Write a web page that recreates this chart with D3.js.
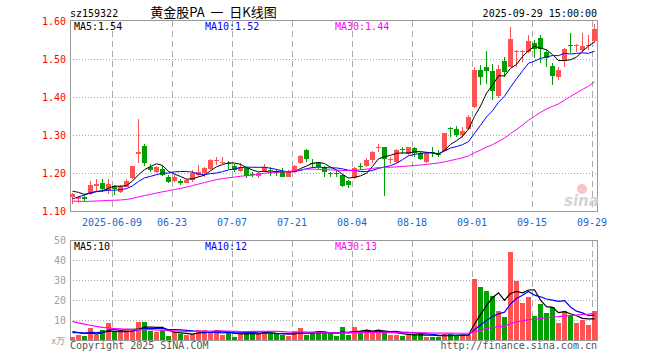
<!DOCTYPE html>
<html><head><meta charset="utf-8">
<script src="https://cdn.jsdelivr.net/npm/d3@7/dist/d3.min.js"></script>
<style>body{margin:0;background:#fff}svg{display:block}</style>
</head><body>
<svg id="chart" width="660" height="360"></svg>
<script>
// ---------- data ----------
const dates = [
"2025-05-28","2025-05-29","2025-05-30",
"2025-06-03","2025-06-04","2025-06-05","2025-06-06","2025-06-09","2025-06-10","2025-06-11","2025-06-12","2025-06-13",
"2025-06-16","2025-06-17","2025-06-18","2025-06-19","2025-06-20","2025-06-23","2025-06-24","2025-06-25","2025-06-26","2025-06-27","2025-06-30",
"2025-07-01","2025-07-02","2025-07-03","2025-07-04","2025-07-07","2025-07-08","2025-07-09","2025-07-10","2025-07-11",
"2025-07-14","2025-07-15","2025-07-16","2025-07-17","2025-07-18","2025-07-21","2025-07-22","2025-07-23","2025-07-24","2025-07-25",
"2025-07-28","2025-07-29","2025-07-30","2025-07-31",
"2025-08-01","2025-08-04","2025-08-05","2025-08-06","2025-08-07","2025-08-08","2025-08-11","2025-08-12","2025-08-13","2025-08-14","2025-08-15",
"2025-08-18","2025-08-19","2025-08-20","2025-08-21","2025-08-22","2025-08-25","2025-08-26","2025-08-27","2025-08-28","2025-08-29",
"2025-09-01","2025-09-02","2025-09-03","2025-09-04","2025-09-05","2025-09-08","2025-09-09","2025-09-10","2025-09-11","2025-09-12",
"2025-09-15","2025-09-16","2025-09-17","2025-09-18","2025-09-19","2025-09-22","2025-09-23","2025-09-24","2025-09-25","2025-09-26","2025-09-29"
];
const opens = [
1.137,1.132,1.138,1.145,1.166,1.173,1.154,1.166,1.151,1.164,
1.186,1.251,1.271,1.216,1.203,1.211,1.189,1.180,1.178,1.174,
1.182,1.195,1.199,1.210,1.232,1.229,1.226,1.218,1.206,1.213,
1.197,1.191,1.205,1.207,1.203,1.203,1.190,1.203,1.226,1.261,
1.227,1.226,1.215,1.200,1.200,1.195,1.179,1.186,1.218,1.218,
1.234,1.267,1.268,1.234,1.229,1.262,1.249,1.266,1.253,1.230,
1.254,1.251,1.259,1.318,1.315,1.299,1.317,1.373,1.471,1.478,
1.468,1.403,1.496,1.480,1.518,1.520,1.518,1.543,1.555,1.519,
1.482,1.452,1.495,1.537,1.536,1.524,1.536,1.548];
const highs = [
1.147,1.139,1.146,1.179,1.184,1.183,1.184,1.168,1.168,1.184,
1.219,1.342,1.276,1.225,1.219,1.218,1.195,1.195,1.183,1.184,
1.208,1.221,1.217,1.236,1.243,1.241,1.232,1.224,1.227,1.215,
1.203,1.203,1.224,1.215,1.211,1.212,1.207,1.221,1.247,1.262,
1.236,1.230,1.219,1.203,1.208,1.197,1.182,1.215,1.226,1.239,
1.259,1.276,1.269,1.242,1.262,1.269,1.269,1.269,1.256,1.256,
1.268,1.261,1.306,1.322,1.324,1.320,1.353,1.480,1.484,1.521,
1.487,1.484,1.506,1.585,1.524,1.525,1.563,1.550,1.563,1.525,
1.489,1.480,1.528,1.568,1.540,1.568,1.563,1.592];
const lows = [
1.118,1.121,1.126,1.142,1.153,1.149,1.145,1.142,1.147,1.162,
1.184,1.226,1.218,1.203,1.201,1.192,1.173,1.177,1.168,1.173,
1.177,1.189,1.189,1.208,1.221,1.224,1.211,1.203,1.203,1.187,
1.189,1.187,1.203,1.192,1.192,1.189,1.189,1.201,1.224,1.230,
1.212,1.211,1.190,1.189,1.190,1.162,1.160,1.183,1.209,1.215,
1.226,1.256,1.140,1.224,1.226,1.250,1.247,1.243,1.234,1.226,
1.243,1.242,1.257,1.294,1.294,1.291,1.313,1.370,1.432,1.433,
1.392,1.397,1.453,1.478,1.480,1.493,1.515,1.502,1.489,1.480,
1.432,1.445,1.480,1.515,1.518,1.519,1.524,1.541];
const closes = [
1.145,1.137,1.132,1.168,1.172,1.157,1.172,1.159,1.166,1.180,
1.218,1.254,1.226,1.207,1.217,1.195,1.177,1.190,1.175,1.182,
1.199,1.203,1.212,1.234,1.233,1.230,1.225,1.209,1.217,1.192,
1.196,1.201,1.217,1.205,1.202,1.190,1.203,1.218,1.245,1.236,
1.226,1.215,1.202,1.199,1.199,1.166,1.168,1.212,1.217,1.234,
1.256,1.268,1.238,1.236,1.261,1.261,1.268,1.253,1.238,1.252,
1.253,1.250,1.305,1.317,1.299,1.311,1.347,1.471,1.452,1.469,
1.416,1.473,1.466,1.553,1.520,1.521,1.548,1.526,1.526,1.503,
1.455,1.470,1.526,1.536,1.537,1.534,1.537,1.580];
// volume, unit: 万
const volumes = [
1.7,2.5,2,6.2,2.5,5,8.5,4,4,5,
5,9,9,4.5,4,5,2,4,3,2.5,
3,5,5,4,5,2.5,3.7,1.5,3.3,4.5,
3,3,4.5,3,3,2.5,2,4.5,6,2.5,
3.7,4.5,3.5,3.3,2,6.5,2.5,6.5,4.5,4.5,
4.5,4.5,4.5,2.5,2.5,2,2.5,3,3,1.7,
1.7,1.7,3,3,2,2.3,2.3,30.5,26.5,24.5,
22,14.5,11.5,44,29.5,18.5,21.5,12,18,13.5,
16.5,8.5,14.5,12.5,8.5,10,7.5,14.5];
// sessions before the visible window (estimated from where the MA lines start)
const priorCloses = [1.150,1.148,1.152,1.145,1.140,1.146,1.150,1.142,1.138,1.139,
1.130,1.122,1.115,1.108,1.100,1.095,1.090,1.088,1.080,1.082,
1.083,1.086,1.112,1.130,1.149,1.152,1.158,1.150,1.155];
const priorVolumes = [24,22,22,20,20,18,12,10,10,9,9,8,8,8,8,8,7,7,6,6,
3,4,3,3,3,5,4,5,5.3];
const priceTicks = [1.10,1.20,1.30,1.40,1.50,1.60];
const volumeTicks = [10,20,30,40,50];
const dateTickDates = ["2025-06-09","2025-06-23","2025-07-07","2025-07-21","2025-08-04","2025-08-18","2025-09-01","2025-09-15","2025-09-29"];
const dateTickLabels = ["2025-06-09","06-23","07-07","07-21","08-04","08-18","09-01","09-15","09-29"];
const maPeriods = [5,10,30];

// ---------- drawing ----------
const svg = d3.select("#chart");
const RED = "#ff5353", GREEN = "#00a000", GRID = "#aaaaaa", FRAME = "#999999";
const MA_COLORS = ["#000000","#0000ff","#ff00ff"];
const MONO = "'DejaVu Sans Mono', monospace";
const L = 70, R = 597;

const x = d3.scaleBand().domain(dates).range([70, 598]);
const bw = x.bandwidth() - 1;
const y = d3.scaleLinear().domain([1.10, 1.60]).range([211, 21]);
const yv = d3.scaleLinear().domain([0, 50]).range([340, 240]);

function movingAvg(prior, vals, n) {
  const all = prior.concat(vals), off = prior.length;
  return vals.map((_, i) => d3.mean(all.slice(off + i - n + 1, off + i + 1)));
}
const priceMA = maPeriods.map(n => movingAvg(priorCloses, closes, n));
const volMA = maPeriods.map(n => movingAvg(priorVolumes, volumes, n));

function txt(xp, yp, s, fill, size, anchor, family) {
  return svg.append("text").attr("x", xp).attr("y", yp).text(s)
    .attr("fill", fill).attr("font-size", size).attr("text-anchor", anchor || "start")
    .attr("font-family", family || MONO);
}

// header
txt(70, 16.5, "sz159322", "#000", 10);
txt(213.5, 16.5, "黄金股PA\u00a0\u00a0一\u00a0\u00a0日K线图", "#000", 13, "middle", "'Noto Sans CJK SC', sans-serif");
txt(597, 16.5, "2025-09-29 15:00:00", "#000", 10, "end");

const grid = svg.append("g").attr("shape-rendering", "crispEdges");
// horizontal dotted grid
priceTicks.filter(t => t > 1.10 && t < 1.60).forEach(t => {
  grid.append("line").attr("x1", L).attr("x2", R).attr("y1", Math.round(y(t)) + 0.5).attr("y2", Math.round(y(t)) + 0.5)
    .attr("stroke", GRID).attr("stroke-dasharray", "1,2");
});
volumeTicks.filter(t => t < 50).forEach(t => {
  grid.append("line").attr("x1", L).attr("x2", R).attr("y1", yv(t) + 0.5).attr("y2", yv(t) + 0.5)
    .attr("stroke", GRID).attr("stroke-dasharray", "1,2");
});
// vertical dashed grid + date labels
dateTickDates.forEach((d, k) => {
  const gx = x(d) + 0.5;
  grid.append("line").attr("x1", gx).attr("x2", gx).attr("y1", 21).attr("y2", 211)
    .attr("stroke", GRID).attr("stroke-dasharray", "6,4");
  grid.append("line").attr("x1", gx).attr("x2", gx).attr("y1", 241).attr("y2", 340)
    .attr("stroke", GRID).attr("stroke-dasharray", "6,4");
  txt(x(d), 226, dateTickLabels[k], "#1f66cc", 10, "middle");
});
// frames
grid.append("rect").attr("x", 70.5).attr("y", 20.5).attr("width", 527).attr("height", 191)
  .attr("fill", "none").attr("stroke", FRAME);
grid.append("rect").attr("x", 70.5).attr("y", 240.5).attr("width", 527).attr("height", 100)
  .attr("fill", "none").attr("stroke", FRAME);

// axis labels
priceTicks.forEach(t => txt(66, y(t) + 4, t.toFixed(2), "#ff0000", 10, "end"));
volumeTicks.forEach(t => txt(66, yv(t) + 4, String(t), "#a0a0a0", 10, "end"));
txt(65, 344, "x万", "#a0a0a0", 9, "end", "'Noto Sans CJK SC', sans-serif");

// sina watermark
svg.append("circle").attr("cx", 582).attr("cy", 189).attr("r", 5).attr("fill", "#f6c4c4");
svg.append("text").attr("x", 564).attr("y", 206).text("sina").attr("font-size", 15)
  .attr("font-style", "italic").attr("font-weight", "bold").attr("fill", "#d4d4d4")
  .attr("font-family", "'DejaVu Sans', sans-serif");

// candles
const cg = svg.append("g").attr("shape-rendering", "crispEdges");
dates.forEach((d, i) => {
  const col = closes[i] >= opens[i] ? RED : GREEN;
  const x0 = x(d);
  cg.append("rect").attr("x", x0 + 2).attr("width", 1)
    .attr("y", y(highs[i])).attr("height", Math.max(1, y(lows[i]) - y(highs[i]))).attr("fill", col);
  const top = y(Math.max(opens[i], closes[i])), bot = y(Math.min(opens[i], closes[i]));
  cg.append("rect").attr("x", x0).attr("width", bw)
    .attr("y", top).attr("height", Math.max(1, bot - top)).attr("fill", col);
  // volume bar
  cg.append("rect").attr("x", x0).attr("width", bw)
    .attr("y", yv(volumes[i])).attr("height", 340 - yv(volumes[i])).attr("fill", col);
});

// moving average lines
const cx = i => x(dates[i]) + 2.5;
priceMA.forEach((arr, k) => {
  svg.append("path").attr("d", d3.line().x((v, i) => cx(i)).y(v => y(v))(arr))
    .attr("fill", "none").attr("stroke", MA_COLORS[k]).attr("stroke-width", 1);
});
volMA.forEach((arr, k) => {
  svg.append("path").attr("d", d3.line().x((v, i) => cx(i)).y(v => yv(v))(arr))
    .attr("fill", "none").attr("stroke", MA_COLORS[k]).attr("stroke-width", 1.2);
});

// MA legends
const legX = [74, 205, 335];
maPeriods.forEach((n, k) => {
  txt(legX[k], 30, "MA" + n + ":" + priceMA[k][priceMA[k].length - 1].toFixed(2), MA_COLORS[k], 10);
  txt(legX[k], 249.5, "MA" + n + ":" + Math.floor(volMA[k][volMA[k].length - 1]), MA_COLORS[k], 10);
});

// footer
txt(70, 348.5, "Copyright 2025 SINA.COM", "#555555", 10);
txt(597, 348.5, "http://finance.sina.com.cn", "#555555", 10, "end");
</script>
</body></html>
